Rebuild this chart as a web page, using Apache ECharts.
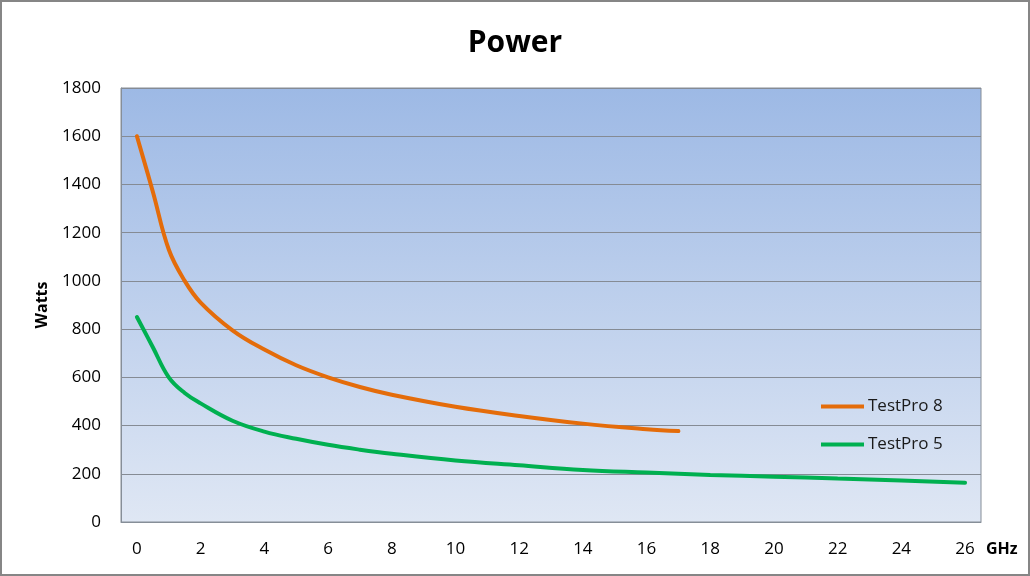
<!DOCTYPE html>
<html>
<head>
<meta charset="utf-8">
<script src="https://cdn.jsdelivr.net/npm/echarts@6/dist/echarts.min.js"></script>
<style>
html,body{margin:0;padding:0;background:#fff;}
#chart{width:1030px;height:576px;}
</style>
</head>
<body>
<div id="chart"></div>
<script>
// ---- Data ----
const xTickLabels = [0, 2, 4, 6, 8, 10, 12, 14, 16, 18, 20, 22, 24, 26];
const pro8X = [0, 0.5, 1, 1.5, 2, 3, 4, 5, 6, 7, 8, 10, 12, 14, 16, 17];
const pro8Y = [1600, 1370, 1130, 1000, 910, 795, 715, 650, 600, 560, 528, 478, 440, 408, 385, 377];
const pro5X = [0, 0.5, 1, 1.5, 2, 3, 4, 5, 6, 7, 8, 10, 12, 14, 16, 18, 20, 22, 24, 26];
const pro5Y = [850, 725, 600, 535, 492, 420, 375, 345, 320, 300, 283, 255, 235, 216, 205, 195, 188, 180, 172, 163];

const zip = (xs, ys) => xs.map((x, i) => [x, ys[i]]);

const chart = echarts.init(document.getElementById('chart'));
const labelFont = '"Open Sans", "Liberation Sans", sans-serif';
chart.setOption({
  animation: false,
  backgroundColor: '#ffffff',
  title: {
    text: 'Power',
    left: 'center',
    top: 23,
    textStyle: { fontFamily: labelFont, fontWeight: 'bold', fontSize: 30, color: '#000' }
  },
  graphic: [{
    type: 'rect',
    shape: { x: 1, y: 1, width: 1028, height: 574 },
    style: { fill: 'none', stroke: '#868686', lineWidth: 2 },
    silent: true
  }],
  legend: {
    orient: 'vertical',
    left: 816,
    top: 393,
    icon: 'rect',
    itemWidth: 43,
    itemHeight: 4,
    itemGap: 21,
    textStyle: { fontFamily: labelFont, fontSize: 17, color: '#1a1a1a', padding: [0, 0, 0, -1] },
    data: ['TestPro 8', 'TestPro 5']
  },
  grid: {
    left: 121, top: 88, right: 49, bottom: 54,
    show: true,
    borderColor: '#868e98',
    borderWidth: 1,
    backgroundColor: {
      type: 'linear', x: 0, y: 0, x2: 0, y2: 1,
      colorStops: [{ offset: 0, color: '#9db9e5' }, { offset: 1, color: '#dfe7f4' }]
    }
  },
  xAxis: {
    type: 'value',
    min: -0.5,
    max: 26.5,
    name: 'GHz',
    nameLocation: 'end',
    nameGap: 5,
    nameTextStyle: { fontFamily: labelFont, fontWeight: 'bold', fontSize: 16, color: '#000', verticalAlign: 'top', padding: [19, 0, 0, 0] },
    axisLine: { show: true, onZero: false, lineStyle: { color: '#868e98' } },
    axisTick: { show: false },
    splitLine: { show: false },
    axisLabel: {
      customValues: xTickLabels,
      margin: 19,
      fontFamily: labelFont, fontSize: 17, color: '#000'
    }
  },
  yAxis: {
    type: 'value',
    min: 0,
    max: 1800,
    interval: 200,
    name: 'Watts',
    nameLocation: 'middle',
    nameRotate: 90,
    nameGap: 71,
    nameTextStyle: { fontFamily: labelFont, fontWeight: 'bold', fontSize: 16, color: '#000' },
    axisLine: { show: true, onZero: false, lineStyle: { color: '#868e98' } },
    axisTick: { show: false },
    axisLabel: { margin: 20, fontFamily: labelFont, fontSize: 17, color: '#000', formatter: v => String(v) },
    splitLine: { show: true, lineStyle: { color: '#858b94', width: 1 } }
  },
  series: [
    {
      name: 'TestPro 8',
      type: 'line',
      data: zip(pro8X, pro8Y),
      smooth: 0.4,
      symbol: 'none',
      showSymbol: false,
      lineStyle: { color: '#e46c0a', width: 4, cap: 'round' },
      itemStyle: { color: '#e46c0a' }
    },
    {
      name: 'TestPro 5',
      type: 'line',
      data: zip(pro5X, pro5Y),
      smooth: 0.4,
      symbol: 'none',
      showSymbol: false,
      lineStyle: { color: '#00b050', width: 4, cap: 'round' },
      itemStyle: { color: '#00b050' }
    }
  ]
});
</script>
</body>
</html>
